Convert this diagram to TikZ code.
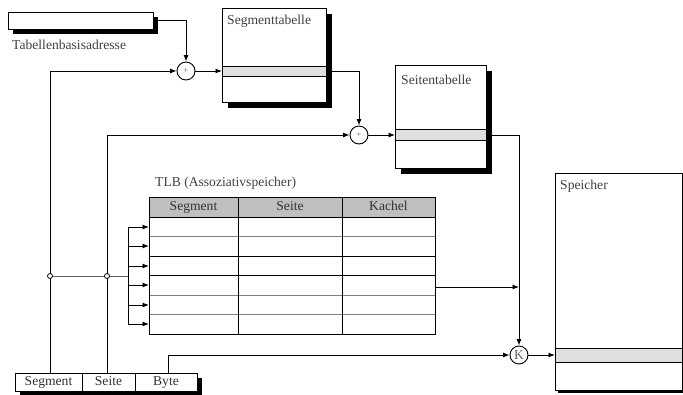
\documentclass[tikz,border=0pt]{standalone}
\usepackage{fontspec}
\setmainfont{Liberation Serif}
\usetikzlibrary{arrows.meta,shadows}
\begin{document}
\begin{tikzpicture}[x=1pt,y=-1pt,
  font=\fontsize{13.6}{16}\selectfont,
  linie/.style={line width=0.9pt},
  pfeil/.style={line width=0.9pt,-{Latex[length=6.5pt,width=5pt]}},
  kasten/.style={draw,line width=0.9pt,fill=white,inner sep=0pt,outer sep=0pt,anchor=north west},
  schatten/.style={drop shadow={shadow xshift=#1,shadow yshift=-#1,fill=black,opacity=1}},
  eintrag/.style={draw,line width=0.9pt,fill=gray!25,inner sep=0pt,outer sep=0pt,anchor=north west},
  addierer/.style={circle,draw,line width=0.9pt,fill=white,inner sep=0pt,minimum size=18pt,text=black!60},
  punkt/.style={circle,draw,line width=0.8pt,fill=white,inner sep=0pt,minimum size=5pt},
  titel/.style={anchor=west,text=black!75,inner sep=0pt},
  feld/.style={text=black!80,inner sep=0pt,text height=9pt,text depth=3pt}]

\useasboundingbox (0,0) rectangle (683,394);

% Tabellenbasisadresse
\node[kasten,schatten=5pt,minimum width=145pt,minimum height=17pt] (basis) at (8,12) {};
\node[titel] (basislabel) at (12,45) {Tabellenbasisadresse};

% Segmenttabelle
\node[kasten,schatten=6pt,minimum width=104pt,minimum height=94pt] (segtab) at (222,8) {};
\node[titel] (segtitel) at (227,21) {Segmenttabelle};
\node[eintrag,minimum width=104pt,minimum height=10pt] (segeintrag) at (222,66) {};

% Seitentabelle
\node[kasten,schatten=6pt,minimum width=91pt,minimum height=103pt] (seitab) at (395,65) {};
\node[titel] (seititel) at (401,80) {Seitentabelle};
\node[eintrag,minimum width=91pt,minimum height=11pt] (seieintrag) at (395,129.5) {};

% Speicher
\node[kasten,schatten=3pt,minimum width=127pt,minimum height=217pt] (speicher) at (555,173) {};
\node[titel] (spetitel) at (560,186) {Speicher};
\node[eintrag,minimum width=127pt,minimum height=14pt] (speintrag) at (555,348) {};

% virtuelle Adresse
\node[kasten,schatten=5pt,minimum width=182pt,minimum height=18pt] (adresse) at (15,373) {};
\draw[linie] (82,373) -- (82,391);
\draw[linie] (135,373) -- (135,391);
\node[feld] (segfeld) at (48.5,382) {Segment};
\node[feld] (seifeld) at (108.5,382) {Seite};
\node[feld] (bytefeld) at (166,382) {Byte};
\coordinate (segbit) at (50,373);
\coordinate (seibit) at (107,373);
\coordinate (bytebit) at (168,373);

% TLB
\node[titel] (tlbtitel) at (155,183) {TLB (Assoziativspeicher)};
\fill[gray!50] (149,197) rectangle (435,217);
\draw[gray,line width=0.9pt] (149,236.5) -- (435,236.5);
\draw[linie] (149,256) -- (435,256);
\draw[linie] (149,275.5) -- (435,275.5);
\draw[gray,line width=0.9pt] (149,295) -- (435,295);
\draw[gray,line width=0.9pt] (149,314.5) -- (435,314.5);
\draw[linie] (149,217) -- (435,217);
\draw[linie] (238,197) -- (238,334);
\draw[linie] (342,197) -- (342,334);
\draw[linie] (149,197) rectangle (435,334);
\node[feld] (kopf1) at (193.5,207) {Segment};
\node[feld] (kopf2) at (290,207) {Seite};
\node[feld] (kopf3) at (388.5,207) {Kachel};

% Addierer und Konkatenation
\node[addierer] (add1) at (186,71) {\fontsize{9}{9}\selectfont +};
\node[addierer] (add2) at (359,135) {\fontsize{9}{9}\selectfont +};
\node[addierer] (kon) at (519,355) {K};

% Verbindungen
\draw[pfeil] (basis.east) -| (add1.north);
\draw[pfeil] (segbit) |- (add1.west);
\draw[pfeil] (add1) -- (segeintrag.west);
\draw[pfeil] (segeintrag.east) -| (add2.north);
\draw[pfeil] (seibit) |- (add2.west);
\draw[pfeil] (add2) -- (seieintrag.west);
\draw[pfeil] (seieintrag.east) -| (kon.north);
\draw[pfeil] (bytebit) |- (kon.west);
\draw[pfeil] (kon) -- (speintrag.west);

\coordinate (tlbaus) at (435,287);
\draw[pfeil] (tlbaus) -- (tlbaus -| kon);

% Eingang TLB
\coordinate (abzweig) at (50,276);
\coordinate (bus) at (128,276);
\draw[gray!80!black,line width=0.9pt] (abzweig) -- (bus);
\foreach \y [count=\i] in {227,246,266,285,305,324} {
  \coordinate (z\i) at (149,\y);
  \draw[pfeil] (z\i -| bus) -- (z\i);
}
\draw[linie] (bus |- z1) -- (bus |- z6);
\node[punkt] (j1) at (abzweig) {};
\node[punkt] (j2) at (abzweig -| seibit) {};

\end{tikzpicture}
\end{document}
